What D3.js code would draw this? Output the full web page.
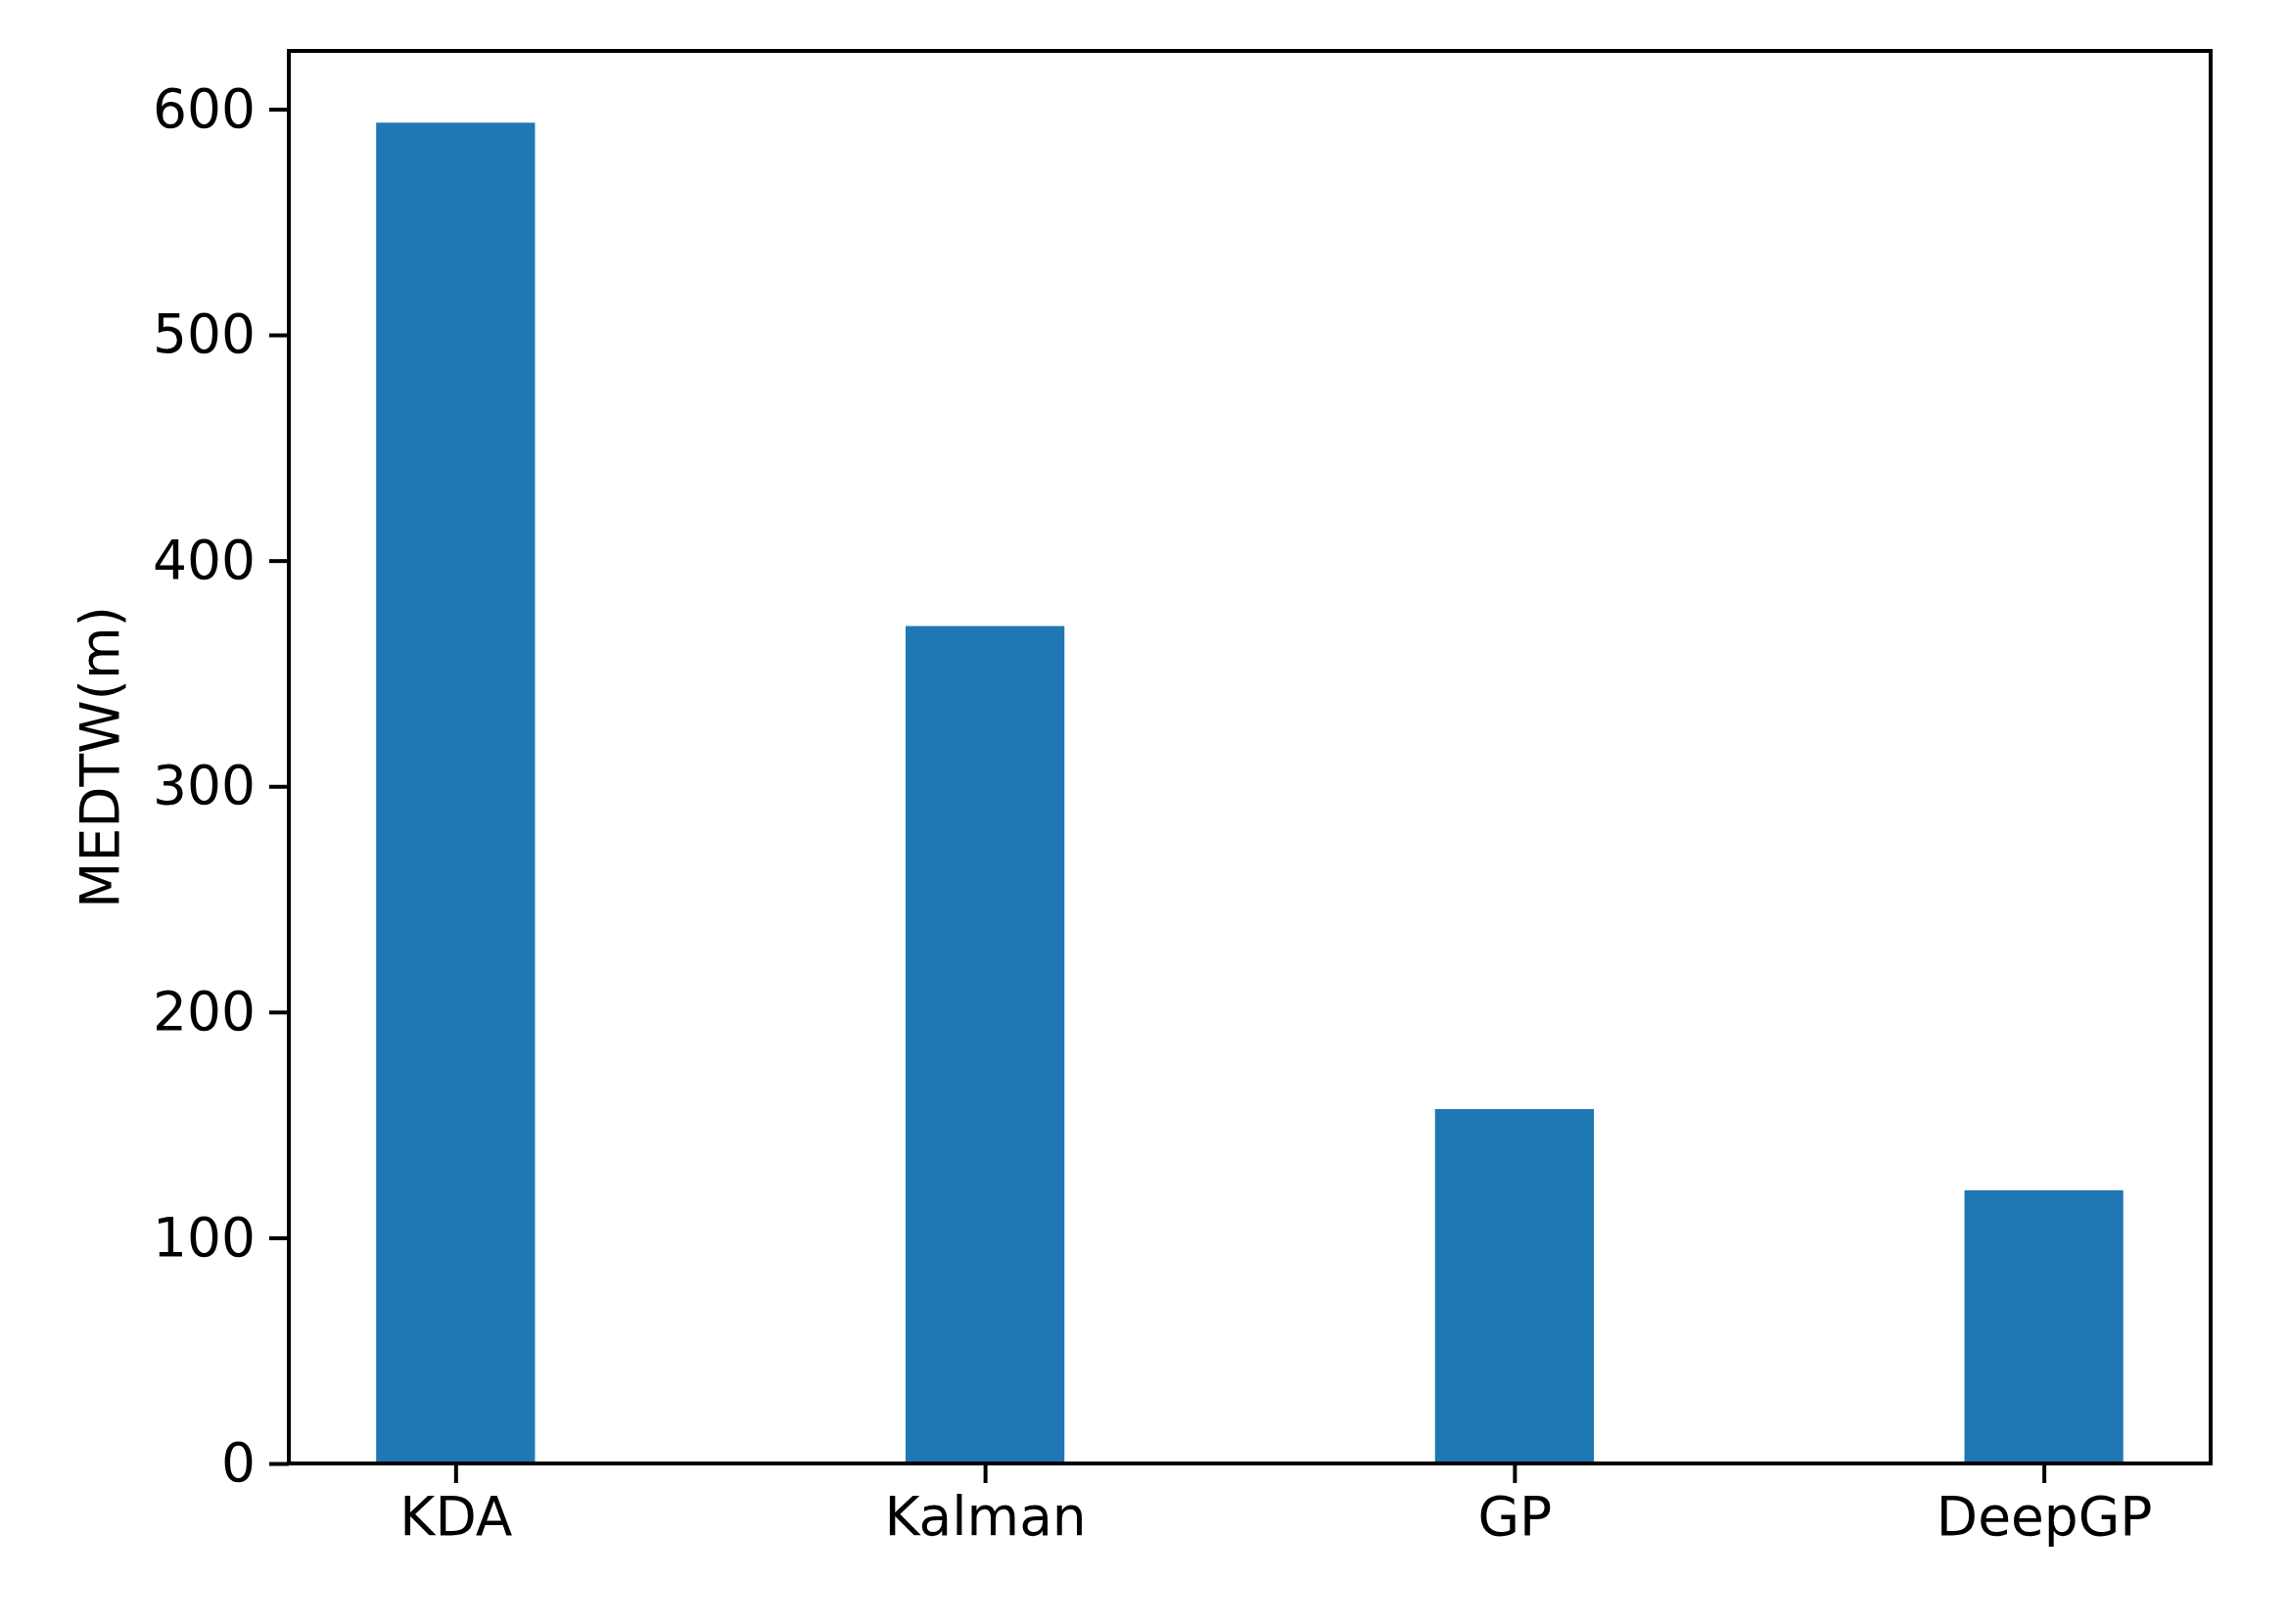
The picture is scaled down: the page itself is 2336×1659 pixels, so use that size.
<!DOCTYPE html>
<html>
<head>
<meta charset="utf-8">
<script src="https://cdn.jsdelivr.net/npm/d3@7"></script>
<style>
  body { margin: 0; background: #fff; }
  text { font-family: "DejaVu Sans", sans-serif; }
</style>
</head>
<body>
<div id="chart"></div>
<script>
// data
var methods = ["KDA", "Kalman", "GP", "DeepGP"];
var medtw = [594, 371, 157, 121];
var yTicks = [0, 100, 200, 300, 400, 500, 600];

var W = 2336, H = 1659;
var margin = {top: 52, right: 78, bottom: 164, left: 295},
  width = W - margin.left - margin.right,
  height = H - margin.top - margin.bottom;

var svg = d3.select("#chart").append("svg")
  .attr("width", W).attr("height", H)
  .append("g")
  .attr("transform", "translate(" + margin.left + "," + margin.top + ")");

// linear x like matplotlib: categories at 0..3, xlim -0.315..3.315
var x = d3.scaleLinear().domain([-0.315, 3.315]).range([0, width]);
var y = d3.scaleLinear().domain([0, 625.8]).range([height, 0]);
var barW = 0.3;

svg.selectAll("rect.bar")
  .data(medtw)
  .enter().append("rect")
  .attr("class", "bar")
  .attr("x", function(d, i) { return x(i - barW / 2); })
  .attr("width", x(barW) - x(0))
  .attr("y", function(d) { return y(d); })
  .attr("height", function(d) { return y(0) - y(d); })
  .style("fill", "#1f77b4");

var yAxis = svg.append("g")
  .call(d3.axisLeft(y).tickValues(yTicks).tickSize(20).tickPadding(14).tickFormat(d3.format("d")));
var xAxis = svg.append("g")
  .attr("transform", "translate(0," + height + ")")
  .call(d3.axisBottom(x).tickValues([0, 1, 2, 3]).tickSize(20).tickPadding(14)
    .tickFormat(function(d) { return methods[d]; }));

[yAxis, xAxis].forEach(function(a) {
  a.select(".domain").remove();
  a.selectAll("line").style("stroke", "#000").style("stroke-width", 4);
  a.selectAll("text").style("font-size", "55px").style("fill", "#000")
    .style("font-family", "'DejaVu Sans', sans-serif");
});

// frame
svg.append("rect")
  .attr("width", width).attr("height", height)
  .style("fill", "none").style("stroke", "#000").style("stroke-width", 4);

// y label
svg.append("text")
  .attr("transform", "translate(" + (102 - margin.left) + "," + (height / 2) + ") rotate(-90)")
  .attr("text-anchor", "middle")
  .attr("dy", "0.35em")
  .style("font-size", "55px")
  .text("MEDTW(m)");
</script>
</body>
</html>
